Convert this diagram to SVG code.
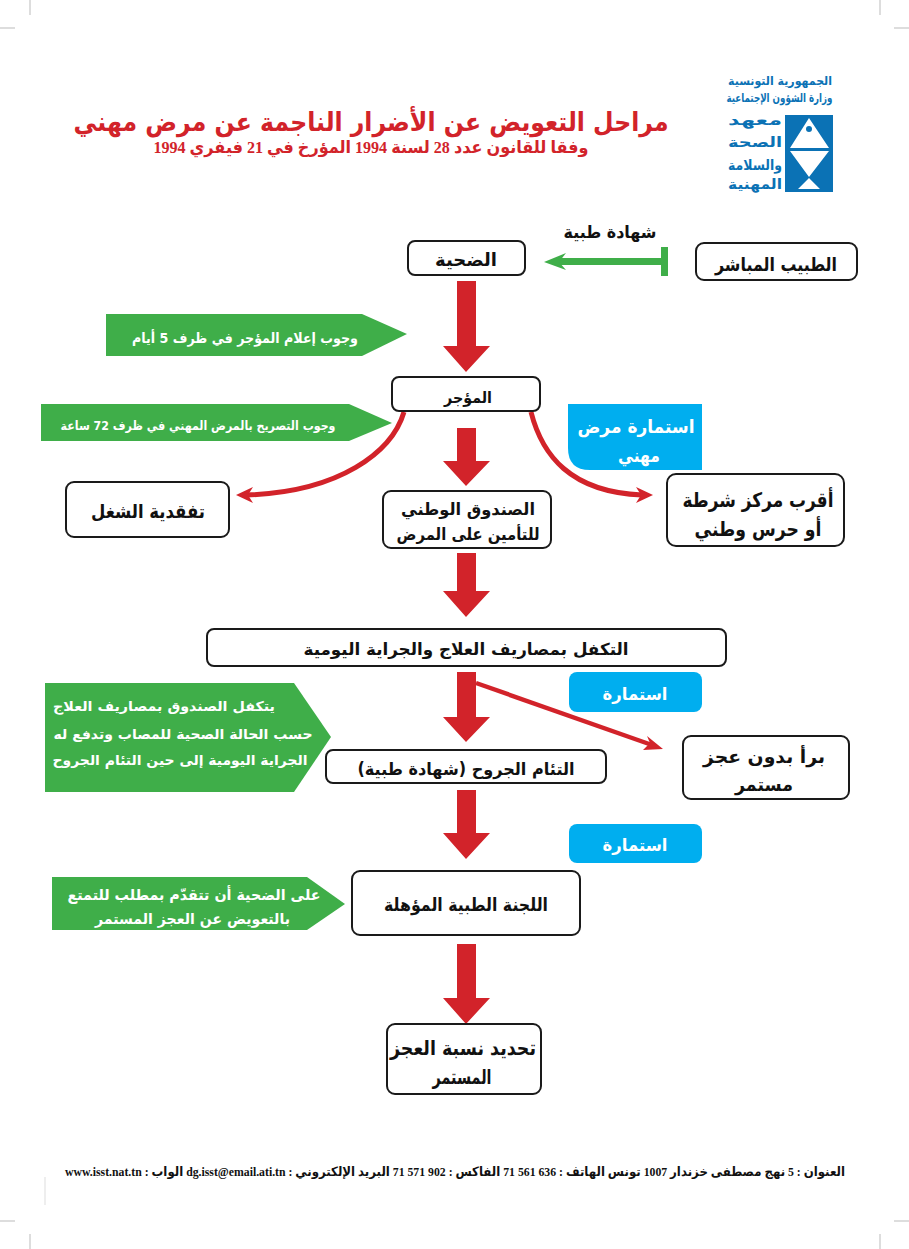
<svg xmlns="http://www.w3.org/2000/svg" width="909" height="1249" viewBox="0 0 909 1249">
<style>
text{font-family:"DejaVu Sans","Noto Sans",sans-serif;font-weight:bold;text-anchor:middle;direction:rtl;fill:#111}
.sf{font-family:"Liberation Serif","DejaVu Sans",serif}
.box{fill:#fff;stroke:#1a1a1a;stroke-width:2}
.g{fill:#3fae49}
.b{fill:#00aeef}
text.w,.w{fill:#fff}
.r{fill:#d2232a}
text.red{fill:#d2232a}
text.lb{fill:#0b72b5}
.cv{fill:none;stroke:#d2232a;stroke-width:5}
.crop{stroke:#bbb;stroke-width:1;fill:none}
</style>
<rect width="909" height="1249" fill="#fff"/>
<g id="crop-marks"><path class="crop" d="M30 0V15M880 0V15M0 28H15M894 28H909M30 1234V1249M880 1234V1249M0 1221H15M894 1221H909"/><path stroke="#ddd" stroke-width="1" d="M45 1177V1205"/></g>
<g id="title">
<text class="red" x="371" y="131" font-size="26" textLength="595" lengthAdjust="spacingAndGlyphs">مراحل التعويض عن الأضرار الناجمة عن مرض مهني</text>
<text class="red sf" x="371" y="153" font-size="17" textLength="435" lengthAdjust="spacingAndGlyphs">وفقا للقانون عدد 28 لسنة 1994 المؤرخ في 21 فيفري 1994</text>
</g>
<g id="logo">
<text class="lb" x="780" y="85" font-size="12" textLength="104" lengthAdjust="spacingAndGlyphs">الجمهورية التونسية</text>
<text class="lb" x="779.500" y="102" font-size="12" textLength="106" lengthAdjust="spacingAndGlyphs">وزارة الشؤون الإجتماعية</text>
<text class="lb" x="755" y="125" font-size="14" textLength="54" lengthAdjust="spacingAndGlyphs">معهد</text>
<text class="lb" x="755" y="147" font-size="14" textLength="54" lengthAdjust="spacingAndGlyphs">الصحة</text>
<text class="lb" x="755" y="170" font-size="14" textLength="54" lengthAdjust="spacingAndGlyphs">والسلامة</text>
<text class="lb" x="755" y="189" font-size="14" textLength="54" lengthAdjust="spacingAndGlyphs">المهنية</text>
<rect x="785" y="115" width="48" height="77" fill="#0b72b5"/>
<path class="w" d="M809 118L790 148H829ZM790 151H829L809 177ZM809 178L798 189H820Z"/>
<circle cx="809" cy="129" r="3" fill="#0b72b5"/>
</g>
<g id="connectors">
<path class="r" d="M457 281H476V346H490L466 372L443 346H457Z"/>
<path class="r" d="M457 428H476V461H490L466 486L443 461H457Z"/>
<path class="r" d="M457 553H476V591H490L466 617L443 591H457Z"/>
<path class="r" d="M457 672H476V717H490L466 742L443 717H457Z"/>
<path class="r" d="M457 790H476V833H490L466 859L443 833H457Z"/>
<path class="r" d="M457 944H476V998H490L466 1024L443 998H457Z"/>
<path class="cv" d="M404 412C392 452 340 492 246 495"/>
<path class="r" d="M236 495L253 487L248 495L253 503Z"/>
<path class="cv" d="M531 412C542 455 570 492 642 495"/>
<path class="r" d="M653 495L636 487L641 495L636 503Z"/>
<path fill="none" stroke="#d2232a" stroke-width="4.500" d="M476 683L652 745"/>
<path class="r" d="M663 749L643 750L650 743L647 736Z"/>
<g class="g"><rect x="556" y="258" width="106" height="7"/><rect x="661" y="247" width="7" height="29"/><path d="M544 262L566 253L559 262L566 270Z"/></g>
</g>
<g id="n-victim"><rect class="box" x="408" y="241" width="117" height="34" rx="7"/><text x="466" y="266" font-size="18" textLength="62" lengthAdjust="spacingAndGlyphs">الضحية</text></g>
<g id="n-doctor"><rect class="box" x="696" y="243" width="161" height="37" rx="8"/><text x="776" y="271" font-size="19" textLength="122" lengthAdjust="spacingAndGlyphs">الطبيب المباشر</text></g>
<g id="l-cert"><text x="610" y="238" font-size="17" textLength="93" lengthAdjust="spacingAndGlyphs">شهادة طبية</text></g>
<g id="n-notify"><path class="g" d="M106 314H362L407 334L362 356H106Z"/><text class="w" x="245" y="343" font-size="14" textLength="226" lengthAdjust="spacingAndGlyphs">وجوب إعلام المؤجر في ظرف 5 أيام</text></g>
<g id="n-employer"><rect class="box" x="392" y="377" width="148" height="34" rx="7"/><text x="468" y="403" font-size="16" textLength="48" lengthAdjust="spacingAndGlyphs">المؤجر</text></g>
<g id="n-declare"><path class="g" d="M41 404H349L392 423L349 441H41Z"/><text class="w" x="198" y="430" font-size="12.500" textLength="275" lengthAdjust="spacingAndGlyphs">وجوب التصريح بالمرض المهني في ظرف 72 ساعة</text></g>
<g id="n-form1"><path class="b" d="M568 404H702V470H590Q568 470 568 448Z"/><text class="w" x="636" y="433" font-size="18" textLength="117" lengthAdjust="spacingAndGlyphs">استمارة مرض</text><text class="w" x="639" y="462" font-size="18" textLength="42" lengthAdjust="spacingAndGlyphs">مهني</text></g>
<g id="n-labour"><rect class="box" x="66" y="482" width="163" height="55" rx="8"/><text x="148" y="518" font-size="19" textLength="114" lengthAdjust="spacingAndGlyphs">تفقدية الشغل</text></g>
<g id="n-fund"><rect class="box" x="383" y="491" width="168" height="57" rx="8"/><text x="468" y="515" font-size="16.500" textLength="134" lengthAdjust="spacingAndGlyphs">الصندوق الوطني</text><text x="468" y="540" font-size="16.500" textLength="143" lengthAdjust="spacingAndGlyphs">للتأمين على المرض</text></g>
<g id="n-police"><rect class="box" x="667" y="474" width="177" height="72" rx="9"/><text x="758" y="507" font-size="20" textLength="151" lengthAdjust="spacingAndGlyphs">أقرب مركز شرطة</text><text x="758" y="536" font-size="20" textLength="127" lengthAdjust="spacingAndGlyphs">أو حرس وطني</text></g>
<g id="n-cover"><rect class="box" x="207" y="629" width="519" height="37" rx="7"/><text x="466" y="655" font-size="16.500" textLength="325" lengthAdjust="spacingAndGlyphs">التكفل بمصاريف العلاج والجراية اليومية</text></g>
<g id="n-form2"><rect class="b" x="569" y="672" width="133" height="40" rx="8"/><text class="w" x="635" y="700" font-size="17" textLength="65" lengthAdjust="spacingAndGlyphs">استمارة</text></g>
<g id="n-fundcover"><path class="g" d="M45 683H294L331 737L294 792H45Z"/>
<text class="w" x="164" y="711" font-size="13.500" textLength="222" lengthAdjust="spacingAndGlyphs">يتكفل الصندوق بمصاريف العلاج</text>
<text class="w" x="183" y="739" font-size="13.500" textLength="259" lengthAdjust="spacingAndGlyphs">حسب الحالة الصحية للمصاب وتدفع له</text>
<text class="w" x="180" y="765" font-size="13.500" textLength="255" lengthAdjust="spacingAndGlyphs">الجراية اليومية إلى حين التئام الجروح</text></g>
<g id="n-healed"><rect class="box" x="683" y="736" width="166" height="63" rx="8"/><text x="764" y="763" font-size="18.500" textLength="122" lengthAdjust="spacingAndGlyphs">برأ بدون عجز</text><text x="764" y="791" font-size="18.500" textLength="58" lengthAdjust="spacingAndGlyphs">مستمر</text></g>
<g id="n-wounds"><rect class="box" x="326" y="750" width="280" height="33" rx="7"/><text x="466" y="775" font-size="17" textLength="217" lengthAdjust="spacingAndGlyphs">التئام الجروح (شهادة طبية)</text></g>
<g id="n-form3"><rect class="b" x="569" y="824" width="133" height="39" rx="8"/><text class="w" x="635" y="851" font-size="17" textLength="65" lengthAdjust="spacingAndGlyphs">استمارة</text></g>
<g id="n-claim"><path class="g" d="M52 877H307L345 904L307 930H52Z"/><text class="w" x="194" y="900" font-size="15" textLength="253" lengthAdjust="spacingAndGlyphs">على الضحية أن تتقدّم بمطلب للتمتع</text><text class="w" x="192.500" y="924" font-size="15" textLength="195" lengthAdjust="spacingAndGlyphs">بالتعويض عن العجز المستمر</text></g>
<g id="n-committee"><rect class="box" x="352" y="871" width="228" height="64" rx="8"/><text x="466" y="911" font-size="18" textLength="164" lengthAdjust="spacingAndGlyphs">اللجنة الطبية المؤهلة</text></g>
<g id="n-rate"><rect class="box" x="387" y="1024" width="154" height="70" rx="8"/><text x="463" y="1055" font-size="20" textLength="146" lengthAdjust="spacingAndGlyphs">تحديد نسبة العجز</text><text x="462" y="1084" font-size="20" textLength="59" lengthAdjust="spacingAndGlyphs">المستمر</text></g>
<g id="footer"><text class="sf" x="455" y="1176" font-size="13" textLength="780" lengthAdjust="spacingAndGlyphs">العنوان : 5 نهج مصطفى خزندار 1007 تونس  الهاتف : 636 561 71 الفاكس : 902 571 71 البريد الإلكتروني : dg.isst@email.ati.tn الواب : www.isst.nat.tn</text></g>
</svg>
